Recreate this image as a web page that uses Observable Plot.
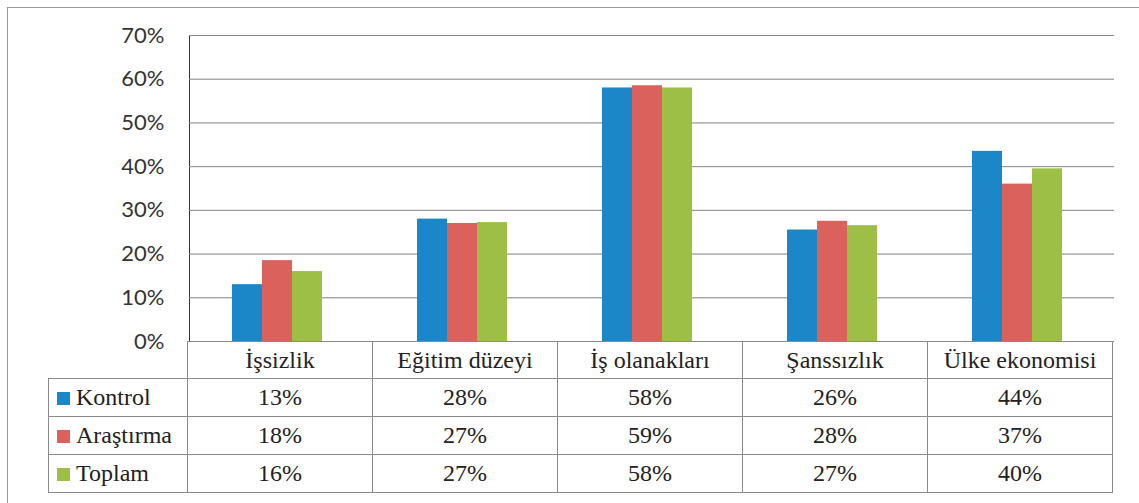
<!DOCTYPE html>
<html>
<head>
<meta charset="utf-8">
<script src="https://cdn.jsdelivr.net/npm/d3@7"></script>
<script src="https://cdn.jsdelivr.net/npm/@observablehq/plot@0.6"></script>
<style>
  .dt { font-family: "Liberation Serif", serif; font-size: 24px; color: #222; }
  .dt td { font-family: "Liberation Serif", serif; font-size: 24px; border: 1px solid #8a8a8a;
           text-align: center; padding: 0; white-space: nowrap; overflow: hidden; }
  .dt td.blank { border: none; }
  .dt td.lab { text-align: left; padding-left: 8px; }
  .dt tr.head { height: 37px; }
  .dt tr.row { height: 38px; }
  .sw { display: inline-block; width: 13px; height: 13px; margin-right: 6px; }
</style>
</head>
<body style="margin:0; background:#fff">
<div style="position:absolute; left:7px; top:7px; width:1140px; height:500px; border-left:1px solid #9a9a9a; border-top:1px solid #9a9a9a;"></div>
<div id="chart"></div>
<table class="dt" id="dt"></table>
<script>
const categories = ["İşsizlik", "Eğitim düzeyi", "İş olanakları", "Şanssızlık", "Ülke ekonomisi"];
const seriesNames = ["Kontrol", "Araştırma", "Toplam"];
const colors = ["#1b87c8", "#da615c", "#9dbf46"];
// bar heights as drawn (fractions)
const kontrolBars = [0.13, 0.28, 0.58, 0.255, 0.435];
const arastirmaBars = [0.185, 0.27, 0.585, 0.275, 0.36];
const toplamBars = [0.16, 0.272, 0.58, 0.265, 0.395];
// values printed in the data table
const kontrolLabels = ["13%", "28%", "58%", "26%", "44%"];
const arastirmaLabels = ["18%", "27%", "59%", "28%", "37%"];
const toplamLabels = ["16%", "27%", "58%", "27%", "40%"];
const yTicks = [0, 0.1, 0.2, 0.3, 0.4, 0.5, 0.6, 0.7];

const barsBySeries = [kontrolBars, arastirmaBars, toplamBars];
const labelsBySeries = [kontrolLabels, arastirmaLabels, toplamLabels];
const data = [];
seriesNames.forEach((s, i) => categories.forEach((c, j) => data.push({cat: c, series: s, value: barsBySeries[i][j]})));

const chart = Plot.plot({
  width: 1139,
  height: 342,
  marginTop: 35,
  marginBottom: 1,
  marginLeft: 187,
  marginRight: 23,
  style: {fontFamily: "Lato, 'Open Sans', sans-serif", fontSize: "22px", color: "#333", background: "transparent", overflow: "visible", display: "block", position: "relative", zIndex: 1},
  fx: {domain: categories, padding: 0, axis: null},
  x: {domain: seriesNames, paddingInner: 0, paddingOuter: 1.55, align: 0.45, axis: null},
  y: {domain: [0, 0.7], ticks: yTicks, tickFormat: d => Math.round(d * 100) + "%", tickSize: 0, tickPadding: 25,
      grid: true, label: null, line: true},
  color: {domain: seriesNames, range: colors},
  marks: [
    Plot.gridY(yTicks, {stroke: "#8a8a8a", strokeOpacity: 1}),
    Plot.barY(data, {fx: "cat", x: "series", y: "value", fill: "series"})
  ]
});
document.getElementById("chart").appendChild(chart);

// data table below, columns aligned with the fx band scale
const fx = chart.scale("fx");
const bw = fx.bandwidth;
const tableLeft = 48;
const legendW = fx.range[0] - tableLeft;
const tbl = document.getElementById("dt");
tbl.style.borderCollapse = "collapse";
tbl.style.tableLayout = "fixed";
tbl.style.marginLeft = tableLeft + "px";
tbl.style.marginTop = "-1px";
tbl.style.width = (legendW + bw * categories.length) + "px";
const cg = document.createElement("colgroup");
[legendW, ...categories.map(() => bw)].forEach(w => {
  const col = document.createElement("col"); col.style.width = w + "px"; cg.appendChild(col);
});
tbl.appendChild(cg);
const tbody = document.createElement("tbody");
tbl.appendChild(tbody);
const head = document.createElement("tr");
head.className = "head";
const blank = document.createElement("td"); blank.className = "blank"; head.appendChild(blank);
categories.forEach(c => { const td = document.createElement("td"); td.textContent = c; head.appendChild(td); });
tbody.appendChild(head);
seriesNames.forEach((s, i) => {
  const tr = document.createElement("tr");
  tr.className = "row";
  const lab = document.createElement("td");
  lab.className = "lab";
  const sw = document.createElement("span");
  sw.className = "sw"; sw.style.background = colors[i];
  lab.appendChild(sw);
  lab.appendChild(document.createTextNode(s));
  tr.appendChild(lab);
  labelsBySeries[i].forEach(v => { const td = document.createElement("td"); td.textContent = v; tr.appendChild(td); });
  tbody.appendChild(tr);
});
</script>
</body>
</html>
